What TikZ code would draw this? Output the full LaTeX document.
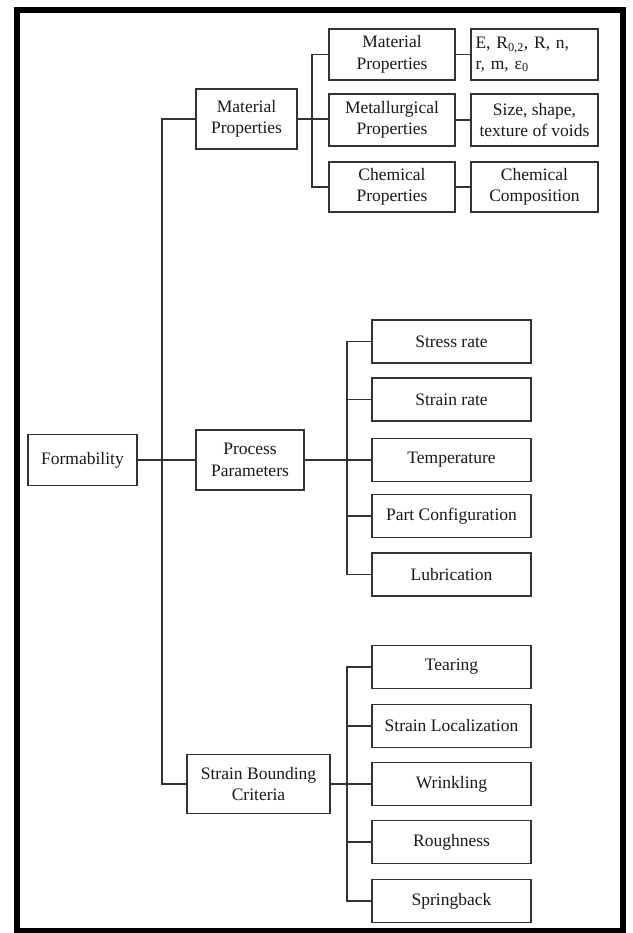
\documentclass[tikz,border=0pt]{standalone}
\usepackage{fontspec}
\setmainfont{Liberation Serif}
\begin{document}
\begin{tikzpicture}[x=1pt,y=-1pt,
  box/.style={draw=black!80, line width=1.3pt, fill=white, inner sep=0pt, align=center,
    font=\fontsize{17.5}{21.5}\selectfont, text=black!90},
  ln/.style={draw=black!80, line width=1.1pt},
  frame/.style={draw=black, line width=6pt}]
\useasboundingbox (0,0) rectangle (632,933);
\draw[frame] (17,10) rectangle (622.5,930.5);
% level 0 / 1
\node[box, minimum width=109pt, minimum height=51pt] (form) at (82.5,460) {Formability};
\node[box, minimum width=101pt, minimum height=60pt] (mat1) at (246.5,119) {Material\\Properties};
\node[box, minimum width=108pt, minimum height=60pt] (proc) at (250,460) {Process\\Parameters};
\node[box, minimum width=143pt, minimum height=59pt] (sbc) at (258.5,784) {Strain Bounding\\Criteria};
% material branch
\node[box, minimum width=126pt, minimum height=51pt] (mat2) at (392,54.5) {Material\\Properties};
\node[box, minimum width=126pt, minimum height=52pt] (met) at (392,120) {Metallurgical\\Properties};
\node[box, minimum width=126pt, minimum height=50pt] (chem) at (392,187) {Chemical\\Properties};
\node[box, minimum width=127pt, minimum height=51pt, align=left, text width=118pt] (emod) at (534.5,54.5) {E, R\textsubscript{0,2}, R, n,\\[-1pt]r, m, ε\textsubscript{0}};
\node[box, minimum width=127pt, minimum height=52pt] (size) at (534.5,120) {Size, shape,\\texture of voids};
\node[box, minimum width=127pt, minimum height=50pt] (comp) at (534.5,187) {Chemical\\Composition};
% process branch
\node[box, minimum width=159pt, minimum height=43pt] (stress) at (451.5,341.5) {Stress rate};
\node[box, minimum width=159pt, minimum height=43pt] (strain) at (451.5,399.5) {Strain rate};
\node[box, minimum width=159pt, minimum height=43pt] (temp) at (451.5,460) {Temperature};
\node[box, minimum width=159pt, minimum height=43pt] (part) at (451.5,516) {Part Configuration};
\node[box, minimum width=159pt, minimum height=43pt] (lub) at (451.5,574.5) {Lubrication};
% strain bounding branch
\node[box, minimum width=159pt, minimum height=43pt] (tear) at (451.5,667) {Tearing};
\node[box, minimum width=159pt, minimum height=43pt] (sloc) at (451.5,726) {Strain Localization};
\node[box, minimum width=159pt, minimum height=43pt] (wrink) at (451.5,784) {Wrinkling};
\node[box, minimum width=159pt, minimum height=43pt] (rough) at (451.5,842) {Roughness};
\node[box, minimum width=159pt, minimum height=43pt] (spring) at (451.5,901) {Springback};
% trunk coordinates
\coordinate (t0) at (162,0);
\coordinate (t1) at (312,0);
\coordinate (t2) at (347,0);
% connectors
\draw[ln] (form.east) -- (proc.west);
\draw[ln] (mat1.west) -- (mat1.west -| t0) |- (sbc.west);
\draw[ln] (mat1.east) -- (mat1.east -| met.west);
\draw[ln] (mat2.west) -- (mat2.west -| t1) |- (chem.west);
\draw[ln] (mat2.east) -- (emod.west);
\draw[ln] (met.east) -- (size.west);
\draw[ln] (chem.east) -- (comp.west);
\draw[ln] (proc.east) -- (temp.west);
\draw[ln] (stress.west) -- (stress.west -| t2) |- (lub.west);
\draw[ln] (strain.west) -- (strain.west -| t2);
\draw[ln] (part.west) -- (part.west -| t2);
\draw[ln] (sbc.east) -- (wrink.west);
\draw[ln] (tear.west) -- (tear.west -| t2) |- (spring.west);
\draw[ln] (sloc.west) -- (sloc.west -| t2);
\draw[ln] (rough.west) -- (rough.west -| t2);
\end{tikzpicture}
\end{document}
